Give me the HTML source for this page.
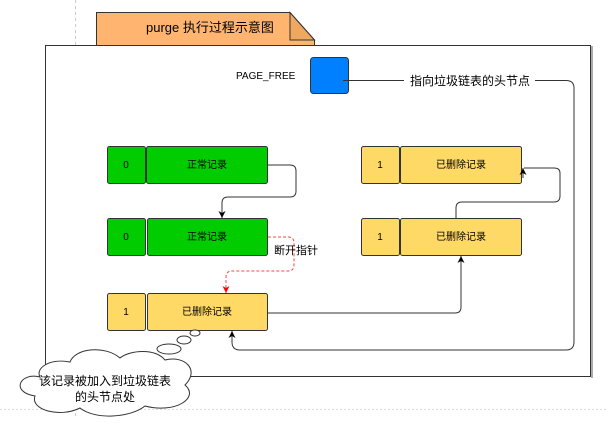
<!DOCTYPE html>
<html><head><meta charset="utf-8"><style>
body{margin:0;background:#fff;width:607px;height:418px;overflow:hidden}
text{font-family:"Liberation Sans","Noto Sans CJK SC",sans-serif;fill:#000}
</style></head><body>
<svg width="607" height="418" viewBox="0 0 607 418" xmlns="http://www.w3.org/2000/svg">
<defs>
<marker id="a" markerWidth="8" markerHeight="8" refX="7" refY="4" orient="auto" markerUnits="userSpaceOnUse"><path d="M0,0.5 L7,4 L0,7.5 L2,4z" fill="#000"/></marker>
<marker id="r" markerWidth="8" markerHeight="8" refX="7" refY="4" orient="auto" markerUnits="userSpaceOnUse"><path d="M0,0.5 L7,4 L0,7.5 L2,4z" fill="#f00"/></marker>
</defs>
<line x1="75.5" y1="0" x2="75.5" y2="45" stroke="#ccc" stroke-dasharray="3,3"/>
<line x1="75.5" y1="377" x2="75.5" y2="418" stroke="#ccc" stroke-dasharray="3,3"/>
<line x1="0" y1="409.5" x2="607" y2="409.5" stroke="#ddd" stroke-dasharray="2,2"/>
<rect x="45.5" y="45.5" width="545" height="331" fill="#fff" stroke="#333"/>
<line x1="592" y1="46" x2="592" y2="378" stroke="#aaa" stroke-width="2"/>
<path d="M96.5,12.5 H290 L314.5,40 V45.5 H96.5 Z" fill="#ffb570" stroke="#333"/>
<path d="M290,12.5 V40 H314.5 Z" fill="#f0a860" stroke="#333"/>
<text x="146" y="32" font-size="13">purge 执行过程示意图</text>
<text x="236" y="79" font-size="10">PAGE_FREE</text>
<rect x="310.5" y="57.5" width="38" height="36" rx="3" fill="#007fff" stroke="#333"/>
<path d="M343,80.5 H404" stroke="#333" fill="none"/>
<text x="410" y="85" font-size="12">指向垃圾链表的头节点</text>
<path d="M535,80.5 H566 Q574,80.5 574,88 V342 Q574,350 566,350 H240 Q232,350 232,342 V331" stroke="#333" fill="none" marker-end="url(#a)"/>
<g stroke="#333" stroke-width="1">
<rect x="107.5" y="146.5" width="38" height="37" rx="2" fill="#00cc00"/>
<rect x="146.5" y="146.5" width="121" height="37" rx="2" fill="#00cc00"/>
<rect x="107.5" y="218.5" width="38" height="37" rx="2" fill="#00cc00"/>
<rect x="147.5" y="218.5" width="120" height="37" rx="2" fill="#00cc00"/>
<rect x="107.5" y="293.5" width="38" height="37" rx="2" fill="#ffd966"/>
<rect x="147.5" y="293.5" width="120" height="37" rx="2" fill="#ffd966"/>
<rect x="361.5" y="146.5" width="38" height="37" rx="2" fill="#ffd966"/>
<rect x="400.5" y="146.5" width="121" height="37" rx="2" fill="#ffd966"/>
<rect x="361.5" y="218.5" width="38" height="37" rx="2" fill="#ffd966"/>
<rect x="400.5" y="218.5" width="121" height="37" rx="2" fill="#ffd966"/>
</g>
<g font-size="10" text-anchor="middle">
<text x="126" y="168">0</text><text x="207" y="168">正常记录</text>
<text x="126" y="240">0</text><text x="207" y="240">正常记录</text>
<text x="126" y="315">1</text><text x="207" y="315">已删除记录</text>
<text x="380" y="168">1</text><text x="461" y="168">已删除记录</text>
<text x="380" y="240">1</text><text x="461" y="240">已删除记录</text>
</g>
<path d="M267,165 H290 Q296,165 296,171 V191 Q296,197 290,197 H228 Q222,197 222,203 V218" stroke="#333" fill="none" marker-end="url(#a)"/>
<path d="M268,237 H288 Q294,237 294,243 V265 Q294,271 288,271 H232 Q226,271 226,277 V293" stroke="#f44" stroke-dasharray="3,2" fill="none" marker-end="url(#r)"/>
<text x="274" y="254" font-size="11">断开指针</text>
<path d="M268,313 H455 Q461,313 461,307 V256" stroke="#333" fill="none" marker-end="url(#a)"/>
<path d="M456,218 V208 Q456,202 462,202 H554 Q560,202 560,196 V173 Q560,168 554,168 H524 V168" stroke="#333" fill="none"/>
<path d="M523,178 V168" stroke="#333" marker-end="url(#a)"/>
<g fill="#fff" stroke="#333">
<ellipse cx="195" cy="333" rx="5" ry="3"/>
<ellipse cx="184" cy="340" rx="7" ry="4"/>
<ellipse cx="169" cy="349" rx="12" ry="5"/>
<path d="M40,377 C20,372 10,392 35,396 C30,410 60,418 80,408 C95,420 130,418 145,406 C175,414 200,398 185,385 C200,370 185,355 165,360 C155,348 130,350 120,358 C105,345 75,348 70,362 C50,358 35,368 40,377 Z"/>
</g>
<text x="105" y="385" font-size="12" text-anchor="middle">该记录被加入到垃圾链表</text>
<text x="105" y="401" font-size="12" text-anchor="middle">的头节点处</text>
</svg>
</body></html>
